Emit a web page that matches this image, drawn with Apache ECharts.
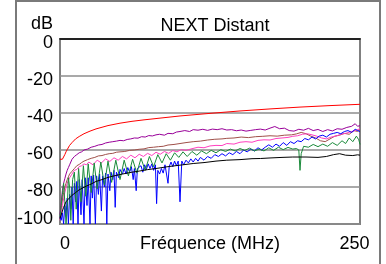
<!DOCTYPE html>
<html>
<head>
<meta charset="utf-8">
<script src="https://cdn.jsdelivr.net/npm/echarts@6/dist/echarts.min.js"></script>
<style>html,body{margin:0;padding:0;background:#fff}#c{width:386px;height:264px}</style>
</head>
<body>
<div id="c"></div>
<script>
const titleText = 'NEXT Distant';
const yUnit = 'dB';
const xName = 'Fréquence (MHz)';
const xTicks = [0, 250];
const yTicks = [0, -20, -40, -60, -80, -100];

// [frequency MHz, dB]
const redLimit = [[0,-65],[1,-65],[2,-65],[3,-64],[4,-62.5],[5,-61],[6,-59.8],[8,-57.5],[10,-56],[13,-54],[16,-52.7],[20,-51.2],[25,-49.8],[30,-48.6],[40,-46.8],[50,-45.5],[60,-44.5],[70,-43.7],[80,-43],[100,-41.6],[125,-40.2],[150,-38.9],[175,-37.8],[200,-36.8],[225,-36],[250,-35.3]];

const purplePair = [[0,-95],[1,-88],[2,-82],[3,-78],[4,-75.5],[5,-73],[6,-71],[7,-69.5],[8,-68],[10,-65],[12,-63.5],[14,-62.5],[16,-61.5],[18,-61],[20,-60],[23,-59.5],[26,-58.5],[29,-58],[32,-57.3],[35,-57],[38,-56.2],[41,-55.8],[44,-55.5],[47,-55.2],[50,-54.8],[53,-55],[56,-54.3],[59,-54],[62,-53.5],[65,-53.6],[68,-52.8],[71,-53],[74,-52.2],[77,-52.4],[80,-51.8],[83,-51.5],[87,-52],[90,-51],[94,-51.2],[97,-50.3],[100,-50],[104,-49.5],[108,-50],[111,-49],[115,-49.3],[119,-48.8],[123,-49.4],[127,-48.7],[131,-49],[135,-48.5],[139,-49.2],[143,-49],[147,-49.6],[151,-49.2],[155,-49.8],[159,-49.4],[163,-49],[167,-48.7],[171,-49.2],[175,-48.2],[179,-47.3],[183,-48.5],[187,-48.2],[191,-49.5],[195,-49.8],[199,-48.8],[203,-49.3],[207,-48.3],[211,-49.5],[215,-48.9],[219,-50],[223,-49],[227,-49.7],[231,-48.5],[235,-48.8],[239,-47.8],[243,-47.2],[246,-45.8],[248,-47.2],[250,-46.8]];

const brownPair = [[0,-97],[1,-92],[2,-87],[3,-83],[4,-80],[5,-78],[6,-76],[7,-74.5],[8,-73],[10,-71.5],[12,-70],[14,-68.5],[16,-67.8],[18,-66.8],[20,-66],[23,-65.2],[26,-64.5],[29,-64],[32,-63.2],[35,-63],[38,-62.4],[41,-62],[44,-61.8],[47,-61.2],[50,-61],[54,-60.8],[58,-60.2],[62,-60],[66,-59.6],[70,-59.4],[74,-58.7],[78,-58.5],[82,-58.2],[86,-58],[90,-57.3],[95,-57],[100,-56.5],[105,-56],[111,-55.5],[117,-55.2],[123,-54.6],[129,-54.2],[135,-54],[139,-53.7],[145,-53.5],[151,-53],[157,-53.3],[163,-52.8],[169,-52.6],[175,-52.3],[181,-52.5],[187,-52],[193,-51.8],[197,-51.3],[201,-50.5],[205,-51.2],[209,-52.5],[213,-53.5],[217,-55],[221,-55.5],[225,-54],[229,-52.5],[233,-52],[237,-51],[241,-51.5],[245,-49.5],[248,-50],[250,-49]];

const pinkPair = [[0,-98],[2,-90],[4,-83],[6,-78],[8,-75],[10,-73],[12,-71],[14,-70.5],[16,-69],[18,-68.5],[20,-67.5],[22,-68],[24,-66.5],[27.5,-68],[31,-65.5],[34.5,-67],[38,-64.8],[41.5,-66.2],[45,-64.2],[48.5,-65.5],[52,-63.5],[55.5,-64.8],[59,-62.8],[62.5,-64.2],[66,-62.3],[69.5,-63.5],[73,-61.8],[76.5,-63],[80,-61.2],[83.5,-62.3],[87,-60.8],[90.5,-61.8],[94,-60.3],[97.5,-61],[101,-59.8],[105,-60.2],[110,-59.3],[115,-58.5],[120,-58.8],[125,-57.8],[130,-57.5],[135,-57.6],[139,-56.5],[145,-56.8],[150,-55.8],[155,-55.5],[160,-55.8],[165,-54.8],[170,-54.5],[175,-54.6],[180,-53.8],[185,-53.5],[190,-53.2],[194,-52.6],[198,-52.3],[202,-51.5],[206,-51.2],[210,-51.8],[214,-52.5],[218,-53.5],[222,-54],[226,-53],[230,-52.5],[234,-51.5],[238,-51],[242,-50.2],[246,-49.5],[250,-48.5]];

const greenPair = [[0,-96],[1,-90],[2,-84],[3,-78],[4,-88],[5,-100],[6,-92],[7,-75],[8,-80],[9,-98],[10.5,-76],[12,-72],[13.5,-92],[15.5,-70],[17.5,-88],[19.5,-68.5],[21.5,-85],[23.5,-67.5],[26,-83],[28.5,-67],[31,-81],[34,-66.5],[37,-79],[40,-66],[43,-77.5],[46.5,-65.5],[50,-76],[53.5,-65.5],[57,-74],[60.5,-65],[64,-72.5],[67.5,-64.5],[71,-71],[74.5,-63.5],[78,-69],[81.5,-62.5],[85,-67],[88.5,-62],[92,-65.5],[95.5,-61.5],[99,-64],[102.5,-61],[106,-63.5],[110,-60.8],[114,-62.8],[118,-60.5],[122,-62],[126,-60.2],[130,-61.5],[134,-59.8],[138,-60.8],[142,-59.5],[146,-60.5],[150,-59.2],[154,-60.2],[158,-59],[162,-60.5],[166,-59.5],[170,-60.5],[174,-58.8],[178,-60.2],[182,-58.5],[186,-59.8],[190,-58.6],[194,-59.5],[197,-59.2],[199,-60],[200,-71],[201,-62],[203,-58],[207,-58.5],[211,-57],[215,-58.2],[219,-56.8],[223,-58],[227,-56],[231,-57.5],[235,-55],[238,-56.5],[241,-53.5],[244,-55.5],[247,-52.5],[249,-54.5],[250,-57]];

const bluePair = [[0,-96],[1,-98],[2,-94],[3,-100],[4,-90],[5,-96],[6,-86],[7,-100],[8,-84],[9,-92],[10,-80],[11,-100],[12,-78],[13,-88],[14,-77],[15,-100],[16,-76],[17.5,-95],[18.5,-76],[20,-100],[21,-75],[22.5,-90],[23.5,-75],[25,-100],[26,-74],[27,-86],[28,-73.5],[29.5,-100],[30.5,-74],[32,-84],[33,-73],[34.5,-93],[35.5,-74],[37,-80],[38,-72.5],[39,-100],[40,-73],[41.5,-82],[42.5,-72],[44,-76],[45,-71],[46,-91],[47,-72],[49,-75],[50,-70.5],[52,-73],[53.5,-70],[55,-73],[56.5,-69.5],[58,-72],[59.5,-69],[61,-76],[62,-70],[63.5,-82],[64.5,-70],[66,-71],[67.5,-68.5],[69,-72],[70.5,-68],[72,-70.5],[73.5,-67.5],[75,-70],[76.5,-67.5],[78,-71],[79.5,-68],[80.5,-89],[81.5,-71],[83,-73],[84.5,-70],[86,-72.5],[87.5,-68],[89,-69],[90,-78],[91,-69],[92.5,-66.5],[94,-69],[95.5,-66],[97,-68.5],[98.5,-66],[100,-88],[101.5,-66],[103,-68],[105,-65.5],[107,-67],[109,-64.8],[111,-66.5],[113,-64.5],[115,-66],[117,-64],[120,-65.5],[123,-63.5],[126,-64.5],[129,-62.5],[132,-63.5],[135,-62],[138,-63.2],[141,-61.5],[144,-62.5],[147,-60.8],[150,-62],[153,-60],[156,-61],[159,-59.5],[162,-60.5],[165,-58.8],[168,-60],[171,-58.5],[174,-57.2],[177,-58.5],[180,-56.8],[183,-58],[186,-56],[189,-57.5],[192,-55.5],[195,-56.5],[198,-55],[201,-55.5],[204,-53.8],[207,-54.5],[210,-53],[213,-54],[216,-52.5],[219,-52],[222,-53],[225,-51.5],[228,-51],[231,-50.5],[234,-51.2],[237,-50],[240,-49.5],[243,-50.5],[246,-48.8],[248,-49.5],[250,-50]];

const blackPair = [[0,-97],[1,-96],[2,-93],[3,-91],[5,-88],[7,-86.5],[10,-84.5],[13,-83],[16,-81.5],[19,-80.5],[22,-79.5],[25,-78.7],[30,-77],[35,-76],[40,-74.8],[45,-74],[52,-73],[60,-72],[66,-71.4],[73,-70.6],[80,-70],[90,-69],[100,-68.2],[111,-67.3],[120,-66.8],[130,-66],[139,-65.5],[150,-65.2],[160,-64.7],[167,-64.6],[175,-64.3],[185,-64],[194,-63.8],[205,-63.8],[215,-64],[222,-63.5],[228,-62.5],[233,-62],[238,-62.8],[244,-63],[248,-62.6],[250,-62.8]];

const FONT = '"Liberation Sans", Arial, sans-serif';
const FS = 18;
const chart = echarts.init(document.getElementById('c'));
function mk(name, data, color, z) {
  return { name, type: 'line', data, showSymbol: false, symbol: 'none', z,
    lineStyle: { color, width: 1 }, clip: true };
}
chart.setOption({
  animation: false,
  backgroundColor: '#fff',
  textStyle: { fontFamily: FONT },
  title: { text: titleText, left: 210, top: 12, textAlign: 'center',
    textStyle: { fontSize: FS, fontWeight: 'normal', color: '#000', fontFamily: FONT } },
  graphic: [
    { type: 'rect', shape: { x: 16, y: 1, width: 364, height: 300 }, style: { fill: 'none', stroke: '#7a7a7a', lineWidth: 2 }, silent: true },
    { type: 'text', x: 53, y: 24, style: { text: yUnit, fontSize: FS, fontFamily: FONT, fill: '#000', align: 'right', verticalAlign: 'middle' } }
  ],
  grid: { left: 60, top: 39, right: 26, bottom: 40, show: true, borderColor: '#808080', borderWidth: 2,
    containLabel: false, outerBoundsMode: 'none' },
  xAxis: {
    type: 'value', min: xTicks[0], max: xTicks[1], interval: xTicks[1] - xTicks[0],
    name: xName, nameLocation: 'middle', nameGap: 11, nameMoveOverlap: false,
    nameTextStyle: { fontSize: FS, color: '#000', fontFamily: FONT, verticalAlign: 'top' },
    axisLine: { show: true, lineStyle: { color: '#000', width: 1.5 } },
    axisTick: { show: false }, splitLine: { show: false },
    axisLabel: { margin: 11, fontSize: FS, color: '#000', fontFamily: FONT,
      formatter: v => v === xTicks[0] ? '{a|' + v + '}' : '{b|' + v + '}',
      rich: { a: { fontSize: FS, fontFamily: FONT, padding: [0, 0, 0, 10] },
              b: { fontSize: FS, fontFamily: FONT, padding: [0, 11, 0, 0] } } }
  },
  yAxis: {
    type: 'value', min: yTicks[5], max: yTicks[0], interval: 20,
    axisLine: { show: false }, axisTick: { show: false },
    splitLine: { show: true, lineStyle: { color: '#8c8c8c', width: 1.5 } },
    axisLabel: { margin: 7, fontSize: FS, color: '#000', fontFamily: FONT,
      formatter: v => v === yTicks[5] ? '{b|' + v + '}' : '{a|' + v + '}',
      rich: { a: { fontSize: FS, fontFamily: FONT, padding: [8, 0, 0, 0] },
              b: { fontSize: FS, fontFamily: FONT, padding: [0, 0, 10, 0] } } }
  },
  series: [
    mk('limit', redLimit, '#ff0000', 2),
    mk('p1', purplePair, '#990099', 3),
    mk('p2', brownPair, '#a0504a', 4),
    mk('p3', pinkPair, '#ff40c0', 5),
    mk('p4', bluePair, '#0000ff', 6),
    mk('p5', greenPair, '#1a8a3a', 7),
    mk('p6', blackPair, '#000000', 8)
  ]
});
</script>
</body>
</html>
